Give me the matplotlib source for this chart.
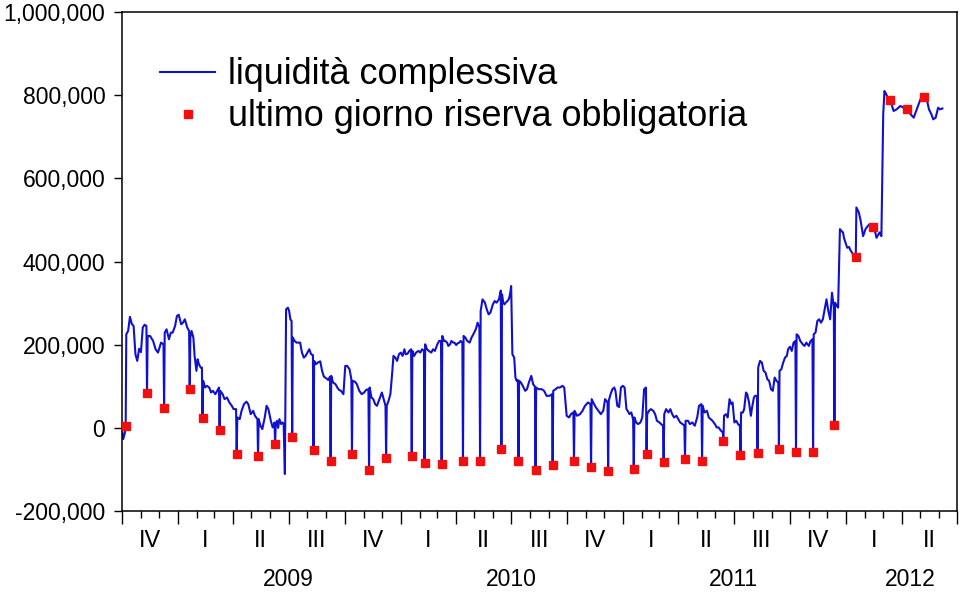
import numpy as np
import pandas as pd
import matplotlib
matplotlib.use("Agg")
import matplotlib.pyplot as plt
import matplotlib.dates as mdates
import matplotlib.ticker as mticker
import matplotlib.transforms as mtransforms

plt.rcParams['font.family'] = ['Liberation Sans', 'DejaVu Sans']

# last day of each reserve maintenance period (red squares), values in thousands
reserve_days = ['2008-10-07', '2008-11-11', '2008-12-09', '2009-01-20', '2009-02-10',
                '2009-03-10', '2009-04-07', '2009-05-12', '2009-06-09', '2009-07-07',
                '2009-08-11', '2009-09-08', '2009-10-13', '2009-11-10', '2009-12-08',
                '2010-01-19', '2010-02-09', '2010-03-09', '2010-04-13', '2010-05-11',
                '2010-06-15', '2010-07-13', '2010-08-10', '2010-09-07', '2010-10-12',
                '2010-11-09', '2010-12-07', '2011-01-18', '2011-02-08', '2011-03-08',
                '2011-04-12', '2011-05-10', '2011-06-14', '2011-07-12', '2011-08-09',
                '2011-09-13', '2011-10-11', '2011-11-08', '2011-12-13', '2012-01-17',
                '2012-02-14', '2012-03-13', '2012-04-10', '2012-05-08']
reserve_vals = [4, 84, 48, 93, 24, -6, -62, -67, -38, -21,
                -53, -79, -64, -101, -72, -68, -85, -86, -79, -79,
                -52, -79, -101, -90, -80, -94, -103, -100, -63, -81,
                -74, -79, -32, -66, -60, -52, -59, -59, 8, 412,
                484, 788, 766, 796]

# daily liquidity read between consecutive period ends (thousands)
line_start = '2008-10-01'
line_end = '2012-06-07'
levels = [
    [-5, -27, -10],
    [225, 233, 267, 250, 245, 177, 161, 190, 182, 241, 248, 245],
    [221, 221, 209, 189, 181, 205, 201],
    [229, 237, 213, 229, 229, 245, 269, 272, 249, 253, 261, 241, 233],
    [217, 233, 217, 173, 137, 165, 153, 145, 145],
    [113, 97, 101, 97, 85, 89, 81, 89, 97],
    [89, 81, 69, 73, 61, 53, 45, 45],
    [25, 21, 41, 57, 63, 57, 33, 41, 29, 21],
    [21, 5, -3, 25, 53, 45, 17, 1, 13],
    [5, 17, 0, 21, 9, 13, 10, -111, 285, 289, 281, 261, 257],
    [217, 209, 205, 205, 205, 181, 169, 173, 181, 189, 177, 175],
    [161, 153, 157, 160, 137, 123, 119, 115, 123],
    [125, 109, 105, 97, 91, 89, 81, 149, 149, 141, 117],
    [113, 111, 105, 89, 81, 85, 91, 93],
    [97, 73, 69, 57, 53, 61, 73, 85, 69, 53],
    [53, 65, 81, 133, 173, 169, 161, 177, 181, 173, 189, 177, 178, 185, 189],
    [185, 173, 181, 185, 181, 189, 185],
    [201, 189, 185, 181, 189, 185, 201, 209, 209],
    [221, 209, 209, 205, 197, 201, 209, 205, 205, 199, 203, 205, 209, 205],
    [221, 217, 209, 205, 217, 225, 237, 253, 241],
    [281, 309, 301, 285, 273, 277, 297, 305, 301, 309, 330],
    [321, 301, 297, 301, 305, 309, 320, 341, 177, 169, 121, 113, 115],
    [113, 109, 101, 89, 93, 109, 125, 105, 99],
    [97, 93, 93, 89, 77, 77, 81],
    [89, 93, 97, 97, 101, 97, 29, 25, 33, 37],
    [41, 29, 33, 41, 53, 61, 57],
    [69, 57, 49, 41, 33, 41, 69, 61],
    [65, 81, 93, 97, 89, 53, 50, 97, 101, 97, 45, 41, 33, 37, 20],
    [25, 13, 9, 13, 25, 93, 97],
    [33, 41, 45, 41, 33, 17, 13, 9, 5],
    [33, 45, 37, 45, 33, 25, 29, 21, 13, 9, 5],
    [17, 17, 9, 13, 5, 25, 53, 57],
    [53, 37, 41, 25, 21, 17, 9, 1, 1, -7, -11],
    [29, 33, 25, 69, 57, 61, 13, 17, 9, 5],
    [37, 37, 45, 85, 81, 61, 29, 49, 73, 77, 77],
    [145, 161, 157, 137, 133, 117, 113, 93, 89, 121, 113, 109],
    [137, 141, 157, 169, 173, 189, 195, 185, 205, 209],
    [225, 221, 209, 201, 197, 205, 197, 209, 213],
    [225, 229, 257, 261, 253, 261, 285, 309, 281, 261, 325, 290],
    [301, 293, 289, 478, 474, 470, 455, 442, 433, 435, 428, 421, 415, 413],
    [530, 518, 498, 461, 478, 486, 490, 488],
    [478, 470, 457, 465, 470, 461, 754, 810, 802, 795, 790],
    [786, 762, 766, 774, 770, 768],
    [766, 754, 746, 770, 790, 798],
    [794, 786, 766, 754, 742, 746, 770, 766, 768],
]

quarter_labels = ['IV', 'I', 'II', 'III', 'IV', 'I', 'II', 'III', 'IV',
                  'I', 'II', 'III', 'IV', 'I', 'II']
year_labels = ['2009', '2010', '2011', '2012']
year_label_at = ['2009-07-01', '2010-07-01', '2011-07-01', '2012-04-15']

# build the daily series: levels inside each period, then the period-end value
res_d = pd.to_datetime(reserve_days)
one = pd.Timedelta(days=1)
dates, vals = [], []
for k, lv in enumerate(levels):
    start = pd.Timestamp(line_start) if k == 0 else res_d[k - 1] + one
    end = res_d[k] - one if k < len(res_d) else pd.Timestamp(line_end)
    span = (end - start).days
    for j, v in enumerate(lv):
        off = 0 if len(lv) == 1 else round(j * span / (len(lv) - 1))
        dates.append(start + pd.Timedelta(days=off))
        vals.append(v)
    if k < len(res_d):
        dates.append(res_d[k])
        vals.append(reserve_vals[k])

vals = np.array(vals) * 1000
res_v = np.array(reserve_vals) * 1000

fig = plt.figure(figsize=(9.6, 5.92), dpi=100)
ax = fig.add_axes([0.1271, 0.1368, 0.8698, 0.8429])

ax.plot(dates, vals, color='#1010D0', lw=1.5, label='liquidità complessiva', zorder=2)
ax.plot(res_d, res_v, ls='none', marker='s', ms=6, color='#F01010', mec='#F01010',
        label='ultimo giorno riserva obbligatoria', zorder=3)

x0 = pd.Timestamp('2008-10-01')
x1 = pd.Timestamp('2012-07-01')
ax.set_xlim(x0, x1)
ax.set_ylim(-200000, 1000000)

ax.set_yticks(np.arange(-200000, 1000001, 200000))
ax.yaxis.set_major_formatter(mticker.FuncFormatter(lambda v, p: f'{v:,.0f}'))
ax.tick_params(axis='y', direction='out', length=6, width=1, pad=6, labelsize=16.5,
               right=False)

qstarts = pd.date_range(x0, x1, freq='QS-OCT')
ax.set_xticks(qstarts)
ax.xaxis.set_minor_locator(mdates.MonthLocator())
ax.tick_params(axis='x', which='major', direction='out', length=9, width=1,
               labelbottom=False)
ax.tick_params(axis='x', which='minor', direction='out', length=5, width=1)

for s in ax.spines.values():
    s.set_linewidth(1.1)

trans = mtransforms.blended_transform_factory(ax.transData, ax.transAxes)
for i, lab in enumerate(quarter_labels):
    mid = qstarts[i] + (qstarts[i + 1] - qstarts[i]) / 2
    ax.text(mid, -0.061, lab, transform=trans, ha='center', va='center', fontsize=17)

for yl, at in zip(year_labels, year_label_at):
    ax.text(pd.Timestamp(at), -0.137, yl, transform=trans, ha='center', va='center',
            fontsize=16.5)

ax.legend(loc='upper left', bbox_to_anchor=(0.0455, 0.909), frameon=False,
          fontsize=25.9, handlelength=1.53, handletextpad=0.36, borderpad=0,
          borderaxespad=0, labelspacing=0.19, numpoints=1)

fig.savefig('out.png', dpi=100)
